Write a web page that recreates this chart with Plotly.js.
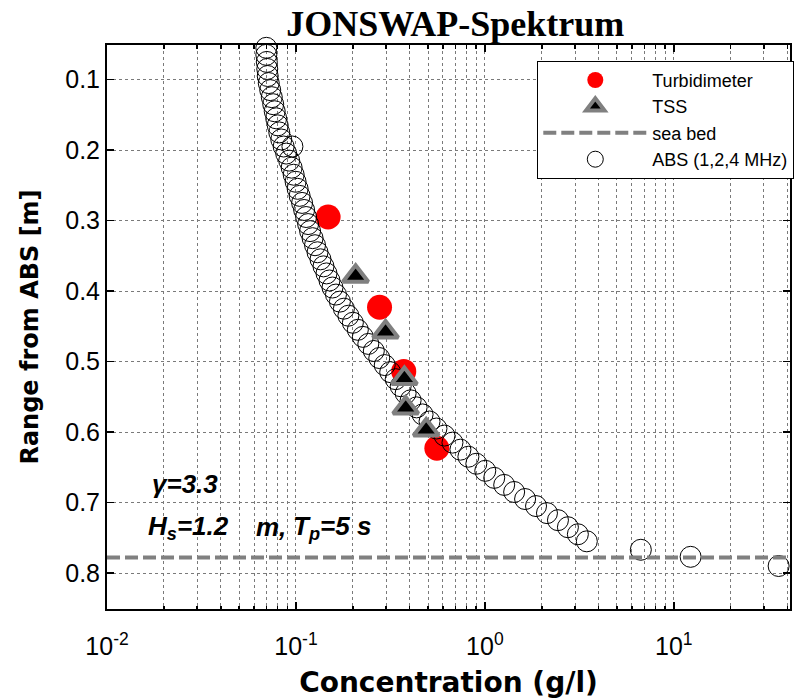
<!DOCTYPE html>
<html>
<head>
<meta charset="utf-8">
<script src="https://cdn.plot.ly/plotly-3.0.1.min.js"></script>
<style>html,body{margin:0;padding:0;background:#fff;}</style>
</head>
<body>
<div id="chart" style="width:802px;height:699px;"></div>
<script>
// ABS (1,2,4 MHz) profile: range from ABS [m] and concentration [g/l]
const absRange = [0.055,0.065,0.075,0.085,0.095,0.105,0.115,0.125,0.135,0.145,
  0.155,0.165,0.175,0.185,0.195,0.205,0.215,0.225,0.235,0.245,
  0.255,0.265,0.275,0.285,0.295,0.305,0.315,0.325,0.335,0.345,
  0.355,0.365,0.375,0.385,0.395,0.405,0.415,0.425,0.435,0.445,
  0.455,0.465,0.475,0.485,0.495,0.505,0.515,0.525,0.535,0.545,
  0.555,0.565,0.575,0.585,0.595,0.605,0.615,0.625,0.635,0.645,
  0.655,0.665,0.675,0.685,0.695,0.705,0.715,0.725,0.735,0.745,
  0.755,0.195,0.767,0.777,0.790];
const absConc = [0.0697,0.0697,0.0701,0.0705,0.0709,0.0718,0.0731,0.0745,0.0758,0.0772,
  0.0786,0.0801,0.0816,0.0836,0.0861,0.0888,0.0921,0.0949,0.0973,0.0996,
  0.1021,0.1046,0.1078,0.1105,0.1132,0.1160,0.1188,0.1225,0.1262,0.1301,
  0.1349,0.1399,0.1451,0.1505,0.1561,0.1629,0.1709,0.1794,0.1895,0.2001,
  0.2126,0.2260,0.2416,0.2583,0.2761,0.2951,0.3155,0.3372,0.3583,0.3807,
  0.4045,0.4351,0.4680,0.5093,0.5543,0.6111,0.6736,0.7421,0.8178,0.9010,
  1.0049,1.1208,1.2653,1.4286,1.6324,1.8655,2.1314,2.4365,2.7506,3.1052,
  3.4638,0.0958,6.69,12.27,35.87];

// Turbidimeter samples
const turbRange = [0.295, 0.423, 0.514, 0.623];
const turbConc  = [0.148, 0.277, 0.372, 0.557];

// TSS samples
const tssRange = [0.379, 0.458, 0.524, 0.566, 0.597];
const tssConc  = [0.207, 0.298, 0.375, 0.381, 0.489];

// sea bed
const seabedRange = 0.778;

// axes
const xMin = 0.01, xMax = 41.2;
const xTickVals = [0.01, 0.1, 1, 10];
const xTickText = ['10<sup>-2</sup>', '10<sup>-1</sup>', '10<sup>0</sup>', '10<sup>1</sup>'];
const yTickVals = [0.1, 0.2, 0.3, 0.4, 0.5, 0.6, 0.7, 0.8];
const yTickText = ['0.1', '0.2', '0.3', '0.4', '0.5', '0.6', '0.7', '0.8'];

const xMinorVals = [];
xTickVals.forEach(function (d) {
  for (let k = 2; k <= 9; k++) { if (k * d <= xMax) xMinorVals.push(k * d); }
});

const traces = [
  {
    name: 'Turbidimeter', x: turbConc, y: turbRange, type: 'scatter', mode: 'markers',
    marker: {symbol: 'circle', size: 25, color: '#ff0000', line: {width: 0}},
    legendrank: 1, cliponaxis: false
  },
  {
    name: 'ABS (1,2,4 MHz)', x: absConc, y: absRange, type: 'scatter', mode: 'markers',
    marker: {symbol: 'circle', size: 21, color: 'rgba(0,0,0,0)', line: {color: '#000000', width: 1}},
    legendrank: 4, cliponaxis: false
  },
  {
    name: 'TSS', x: tssConc, y: tssRange, type: 'scatter', mode: 'markers',
    marker: {symbol: 'triangle-up', size: 22, color: '#000000', line: {color: '#808080', width: 4}},
    legendrank: 2, cliponaxis: false
  },
  {
    name: 'sea bed', x: [xMin, xMax], y: [seabedRange, seabedRange], type: 'scatter', mode: 'lines',
    line: {color: '#808080', width: 4, dash: '13px,5px'},
    legendrank: 3
  }
];

const gridCol = '#7a7a7a';
const layout = {
  width: 802, height: 699,
  margin: {l: 107, r: 8, t: 45, b: 90},
  paper_bgcolor: '#ffffff', plot_bgcolor: '#ffffff',
  title: {
    text: 'JONSWAP-Spektrum',
    font: {family: 'Liberation Serif, Times New Roman, serif', size: 36, weight: 'bold', color: '#000'},
    x: 0.510, xref: 'paper', xanchor: 'center',
    y: 0.966, yref: 'container', yanchor: 'middle'
  },
  showlegend: true,
  legend: {
    x: 0.63, y: 0.972, xanchor: 'left', yanchor: 'top',
    bgcolor: '#ffffff', bordercolor: '#000000', borderwidth: 1,
    font: {family: 'Liberation Sans, Arial, sans-serif', size: 18, color: '#000'},
    itemwidth: 104
  },
  xaxis: {
    type: 'log', range: [Math.log10(xMin), Math.log10(xMax)],
    showline: true, linecolor: '#000', linewidth: 2, mirror: 'allticks',
    ticks: 'inside', ticklen: 7, tickwidth: 1.5, tickcolor: '#000',
    tickmode: 'array', tickvals: xTickVals, ticktext: xTickText,
    ticklabelstandoff: 14,
    tickfont: {family: 'Liberation Sans, Arial, sans-serif', size: 25, color: '#000'},
    showgrid: true, gridcolor: gridCol, griddash: 'dot', gridwidth: 1,
    minor: {tickmode: 'array', tickvals: xMinorVals, ticks: 'inside', ticklen: 3.5, tickcolor: '#000',
            showgrid: true, gridcolor: gridCol, griddash: 'dot', gridwidth: 1},
    zeroline: false,
    title: {
      text: '\u00a0\u00a0\u00a0\u00a0\u00a0Concentration (g/l)',
      font: {family: 'DejaVu Sans, sans-serif', size: 28, weight: 'bold', color: '#000'},
      standoff: 13
    }
  },
  yaxis: {
    range: [0.851, 0.051],
    showline: true, linecolor: '#000', linewidth: 2, mirror: 'allticks',
    ticks: 'inside', ticklen: 7, tickwidth: 1.5, tickcolor: '#000',
    tickmode: 'array', tickvals: yTickVals, ticktext: yTickText,
    tickfont: {family: 'Liberation Sans, Arial, sans-serif', size: 25, color: '#000'},
    showgrid: true, gridcolor: gridCol, griddash: 'dot', gridwidth: 1,
    zeroline: false,
    title: {
      text: 'Range from ABS [m]',
      font: {family: 'DejaVu Sans, sans-serif', size: 24, weight: 'bold', color: '#000'},
      standoff: 20
    }
  },
  annotations: [
    {text: '\u03b3=3.3', xref: 'paper', yref: 'paper', x: 0.0626, y: 0.2216,
     xanchor: 'left', yanchor: 'middle', showarrow: false,
     font: {family: 'Liberation Sans, Arial, sans-serif', size: 26, weight: 'bold', style: 'italic', color: '#000'}},
    {text: 'H<sub>s</sub>=1.2', xref: 'paper', yref: 'paper', x: 0.0578, y: 0.145,
     xanchor: 'left', yanchor: 'middle', showarrow: false,
     font: {family: 'Liberation Sans, Arial, sans-serif', size: 26, weight: 'bold', style: 'italic', color: '#000'}},
    {text: 'm,', xref: 'paper', yref: 'paper', x: 0.2154, y: 0.145,
     xanchor: 'left', yanchor: 'middle', showarrow: false,
     font: {family: 'Liberation Sans, Arial, sans-serif', size: 26, weight: 'bold', style: 'italic', color: '#000'}},
    {text: 'T<sub>p</sub>=5 s', xref: 'paper', yref: 'paper', x: 0.2689, y: 0.145,
     xanchor: 'left', yanchor: 'middle', showarrow: false,
     font: {family: 'Liberation Sans, Arial, sans-serif', size: 26, weight: 'bold', style: 'italic', color: '#000'}}
  ]
};

Plotly.newPlot('chart', traces, layout, {displayModeBar: false, staticPlot: true});
</script>
</body>
</html>
